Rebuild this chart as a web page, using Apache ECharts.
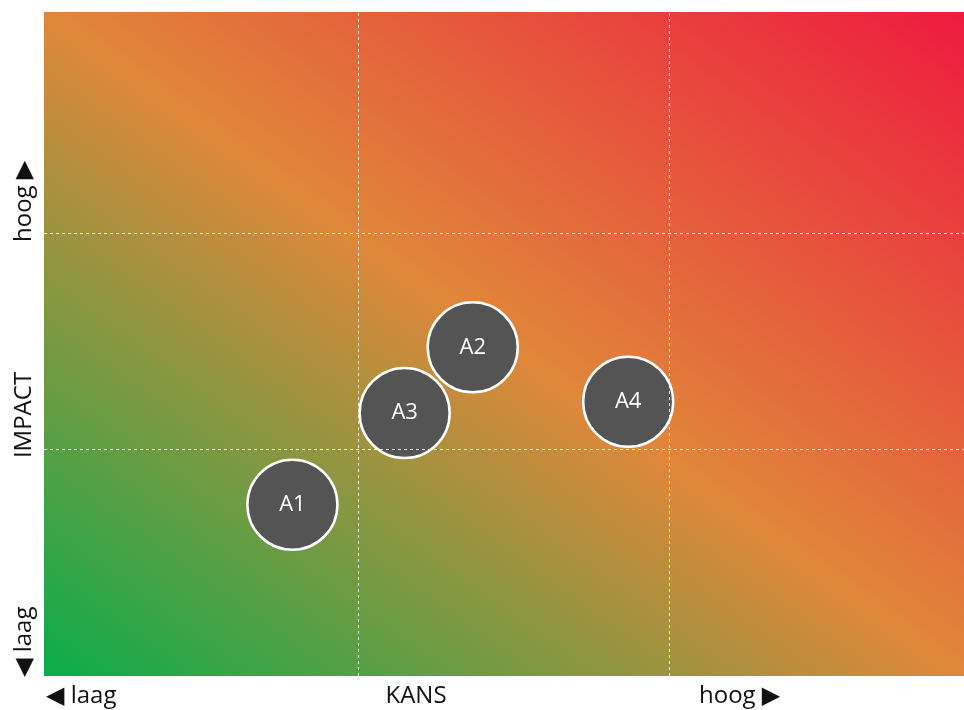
<!DOCTYPE html>
<html>
<head>
<meta charset="utf-8">
<script src="https://cdn.jsdelivr.net/npm/echarts@6/dist/echarts.min.js"></script>
<style>
  html, body { margin: 0; padding: 0; background: #fff; }
  #chart { width: 964px; height: 710px; }
</style>
</head>
<body>
<div id="chart"></div>
<script>
// risico's: kans (x) en impact (y), schaal 0..100
const names = ['A1', 'A2', 'A3', 'A4']
const kans = [27.0, 46.6, 39.2, 63.5]
const impact = [25.8, 49.5, 39.6, 41.3]

// hulplijnen
const kansLines = [34.2, 68.0]
const impactLines = [34.2, 66.7]

const xLabels = ['◀ laag', 'KANS', 'hoog ▶']
const yLabels = ['◀ laag', 'IMPACT', 'hoog ▶']

const font = '"Open Sans", "DejaVu Sans", sans-serif'

const chart = echarts.init(document.getElementById('chart'))

const bg = new echarts.graphic.LinearGradient(0.1575, 1.1575, 0.8425, -0.1575, [
  { offset: 0, color: '#0aad4b' },
  { offset: 0.5, color: '#e0873a' },
  { offset: 1, color: '#ee1b3f' }
])

function axisText(text, x, y, align, rotate) {
  return {
    type: 'text',
    x: x,
    y: y,
    rotation: rotate ? Math.PI / 2 : 0,
    silent: true,
    style: {
      text: text,
      fill: '#111',
      font: '24px ' + font,
      align: align,
      verticalAlign: 'middle'
    }
  }
}

chart.setOption({
  animation: false,
  grid: {
    left: 44,
    right: 0,
    top: 12,
    bottom: 34,
    show: true,
    backgroundColor: bg,
    borderWidth: 0
  },
  xAxis: { type: 'value', min: 0, max: 100, show: false },
  yAxis: { type: 'value', min: 0, max: 100, show: false },
  graphic: [
    axisText(xLabels[0], 46, 696, 'left', false),
    axisText(xLabels[1], 416, 696, 'center', false),
    axisText(xLabels[2], 699, 696, 'left', false),
    axisText(yLabels[0], 24, 677, 'left', true),
    axisText(yLabels[1], 24, 415, 'center', true),
    axisText(yLabels[2], 24, 242, 'left', true)
  ],
  series: [
    {
      type: 'scatter',
      symbolSize: 90,
      data: names.map((n, i) => ({ name: n, value: [kans[i], impact[i]] })),
      itemStyle: {
        color: '#545454',
        borderColor: '#fff',
        borderWidth: 2.5,
        opacity: 1
      },
      label: {
        show: true,
        position: 'inside',
        formatter: '{b}',
        color: '#fff',
        fontFamily: font,
        fontSize: 22
      },
      markLine: {
        silent: true,
        symbol: ['none', 'none'],
        label: { show: false },
        lineStyle: { color: 'rgba(255,255,255,0.85)', type: [3, 3], width: 1 },
        data: kansLines.map(v => ({ xAxis: v })).concat(impactLines.map(v => ({ yAxis: v })))
      }
    }
  ]
})
</script>
</body>
</html>
